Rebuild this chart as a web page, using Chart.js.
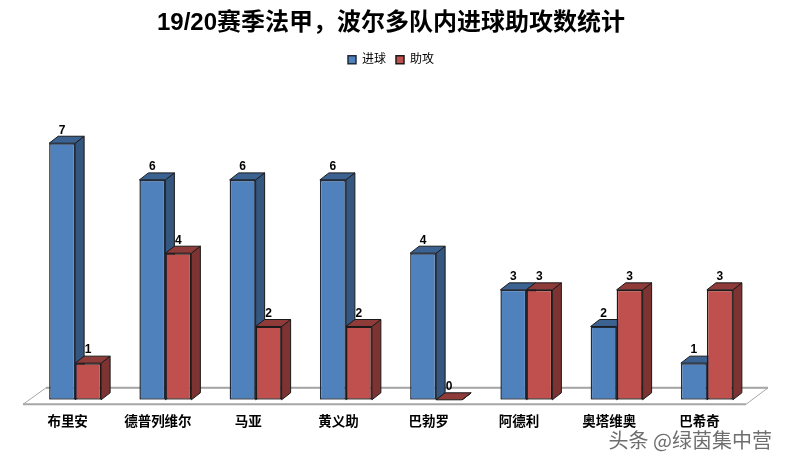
<!DOCTYPE html>
<html><head><meta charset="utf-8">
<style>html,body{margin:0;padding:0;background:#fff}canvas{display:block}</style>
<script src="https://cdn.jsdelivr.net/npm/chart.js@4/dist/chart.umd.min.js"></script>
</head><body>
<canvas id="c" width="785" height="462"></canvas>
<script>
const chartTitle = '19/20赛季法甲，波尔多队内进球助攻数统计';
const watermark = '头条 @绿茵集中营';
const categories = ['布里安','德普列维尔','马亚','黄义助','巴勃罗','阿德利','奥塔维奥','巴希奇'];
const goals = [7,6,6,6,4,3,2,1];
const assists = [1,4,2,2,0,3,3,3];
const seriesNames = ['进球','助攻'];
const cjk = '"Liberation Sans","Noto Sans CJK SC",sans-serif';
const faces = [
  {front:'#4f81bd', top:'#3c6291', side:'#34567f'},
  {front:'#c0504d', top:'#8e3b39', side:'#7c3332'}
];
const DX = 9, DY = 7;

const bars3d = {
  id:'bars3d',
  beforeDatasetsDraw(chart){
    const {ctx, chartArea:a, scales:{y}} = chart;
    const b = y.getPixelForValue(0);
    ctx.save();
    ctx.strokeStyle = '#a6a6a6';
    ctx.lineWidth = 1;
    ctx.beginPath();
    ctx.moveTo(a.left-7,b+4.5);
    ctx.lineTo(a.left+16,b-12);
    ctx.lineTo(a.right+16,b-12);
    ctx.lineTo(a.right-6,b+4.5);
    ctx.stroke();
    ctx.lineWidth = 2;
    ctx.beginPath();
    ctx.moveTo(a.left-7,b+4.5);
    ctx.lineTo(a.right-6,b+4.5);
    ctx.moveTo(a.left+16,b-12);
    ctx.lineTo(a.right+16,b-12);
    ctx.stroke();
    ctx.strokeStyle = '#1a1a1a';
    ctx.lineWidth = 1;
    ctx.lineJoin = 'round';
    [0,1].forEach(i=>{
      const f = faces[i];
      chart.getDatasetMeta(i).data.forEach(el=>{
        const l = el.x-el.width/2, r = el.x+el.width/2, t = el.y, base = el.base;
        ctx.fillStyle = f.side;
        ctx.beginPath();
        ctx.moveTo(r,t);ctx.lineTo(r+DX,t-DY);ctx.lineTo(r+DX,base-DY);ctx.lineTo(r,base);ctx.closePath();
        ctx.fill();ctx.stroke();
        ctx.fillStyle = f.top;
        ctx.beginPath();
        ctx.moveTo(l,t);ctx.lineTo(l+DX,t-DY);ctx.lineTo(r+DX,t-DY);ctx.lineTo(r,t);ctx.closePath();
        ctx.fill();ctx.stroke();
      });
    });
    ctx.restore();
  },
  afterDatasetsDraw(chart){
    const {ctx} = chart;
    ctx.save();
    ctx.fillStyle = '#000';
    ctx.font = 'bold 12px "Liberation Sans",sans-serif';
    ctx.textAlign = 'center';
    ctx.textBaseline = 'middle';
    chart.data.datasets.forEach((ds,i)=>{
      chart.getDatasetMeta(i).data.forEach((el,j)=>{
        ctx.fillText(String(ds.data[j]), el.x, el.y-13);
      });
    });
    ctx.font = '20px "Noto Sans CJK SC",sans-serif';
    ctx.textAlign = 'right';
    ctx.lineWidth = 2.5;
    ctx.strokeStyle = 'rgba(255,255,255,0.9)';
    ctx.strokeText(watermark, 772, 440);
    ctx.fillStyle = '#6e6e6e';
    ctx.fillText(watermark, 772, 440);
    ctx.restore();
  }
};

new Chart(document.getElementById('c'),{
  type:'bar',
  plugins:[bars3d],
  data:{labels:categories,datasets:[
    {label:seriesNames[0],data:goals,backgroundColor:faces[0].front,borderColor:'#1f2a3a',borderWidth:1.5,borderSkipped:false},
    {label:seriesNames[1],data:assists,backgroundColor:faces[1].front,borderColor:'#1f1a1a',borderWidth:1.5,borderSkipped:false}
  ]},
  options:{
    responsive:false,animation:false,devicePixelRatio:1,
    layout:{padding:{left:30,right:33,top:9,bottom:26}},
    datasets:{bar:{categoryPercentage:0.576,barPercentage:1}},
    scales:{
      x:{grid:{display:false},border:{display:false},
         ticks:{color:'#000',font:{family:cjk,size:13.5,weight:'bold'},padding:6,labelOffset:-7.5,maxRotation:0,autoSkip:false}},
      y:{display:false,min:0,max:8.84}
    },
    plugins:{
      title:{display:true,text:chartTitle,color:'#000',font:{family:cjk,size:24,weight:'bold'},padding:{top:0,bottom:6}},
      legend:{position:'top',labels:{color:'#000',boxWidth:8,boxHeight:8,padding:10,font:{family:cjk,size:12}}},
      tooltip:{enabled:false}
    }
  }
});
</script>
</body></html>
